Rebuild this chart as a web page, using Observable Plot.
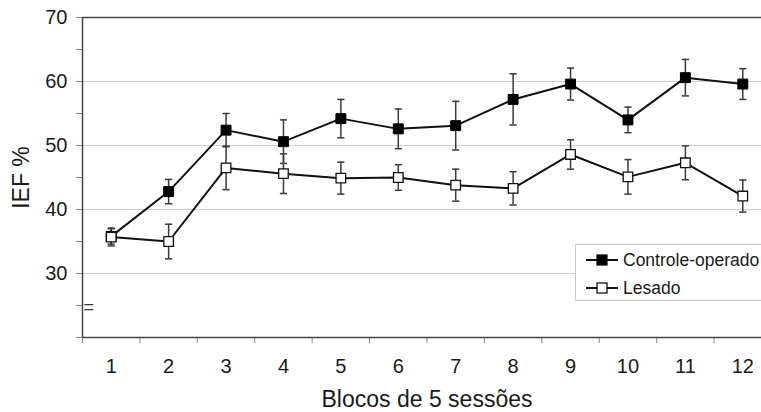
<!DOCTYPE html>
<html>
<head>
<meta charset="utf-8">
<script src="https://cdn.jsdelivr.net/npm/d3@7"></script>
<script src="https://cdn.jsdelivr.net/npm/@observablehq/plot@0.6"></script>
<style>
  html, body { margin: 0; padding: 0; background: #fff; overflow: hidden; }
  #wrap { position: relative; width: 761px; height: 412px; overflow: hidden; font-family: "Liberation Sans", Arial, sans-serif; }
  #legend { position: absolute; left: 575px; top: 244px; width: 210px; height: 57px; border: 1px solid #c8c8c8; background: #fff; box-sizing: border-box; }
  .row { position: absolute; left: 9px; height: 20px; display: flex; align-items: center; font-size: 17.5px; color: #1a1a1a; }
  .row svg { margin-right: 4px; }
</style>
</head>
<body>
<div id="wrap"></div>
<script>
const blocks = [1, 2, 3, 4, 5, 6, 7, 8, 9, 10, 11, 12];
const controle = [35.8, 42.8, 52.4, 50.6, 54.2, 52.6, 53.1, 57.2, 59.6, 54.0, 60.6, 59.6];
const controleErr = [1.2, 1.9, 2.6, 3.4, 3.0, 3.1, 3.8, 4.0, 2.5, 2.0, 2.85, 2.4];
const lesado = [35.7, 35.0, 46.5, 45.6, 44.9, 45.0, 43.8, 43.3, 48.6, 45.1, 47.3, 42.1];
const lesadoErr = [1.4, 2.7, 3.4, 3.1, 2.5, 2.0, 2.5, 2.6, 2.3, 2.7, 2.65, 2.5];
const seriesNames = ["Controle-operado", "Lesado"];
const yTicks = [20, 25, 30, 35, 40, 45, 50, 55, 60, 65, 70];
const yLabels = [30, 40, 50, 60, 70];
const gridValues = [30, 40, 50, 60];
const xBoundaries = [0.5, 1.5, 2.5, 3.5, 4.5, 5.5, 6.5, 7.5, 8.5, 9.5, 10.5, 11.5, 12.5];
const breakMark = [24.7];
const xTitle = "Blocos de 5 sessões";
const yTitle = "IEF %";

const rowsC = blocks.map((b, i) => ({x: b, y: controle[i], e: controleErr[i]}));
const rowsL = blocks.map((b, i) => ({x: b, y: lesado[i], e: lesadoErr[i]}));

const capSymbol = {draw(ctx) { ctx.moveTo(-3.6, 0); ctx.lineTo(3.6, 0); }};
const errColor = "#3a3a3a";

function errMarks(rows) {
  return [
    Plot.ruleX(rows, {x: "x", y1: d => d.y - d.e, y2: d => d.y + d.e, stroke: errColor, strokeWidth: 1.5}),
    Plot.dot(rows, {x: "x", y: d => d.y + d.e, symbol: capSymbol, stroke: errColor, strokeWidth: 1.5, fill: "none", r: 4}),
    Plot.dot(rows, {x: "x", y: d => d.y - d.e, symbol: capSymbol, stroke: errColor, strokeWidth: 1.5, fill: "none", r: 4})
  ];
}

const chart = Plot.plot({
  width: 761,
  height: 412,
  marginLeft: 82,
  marginRight: -10,
  marginTop: 17,
  marginBottom: 75,
  style: {fontFamily: "Liberation Sans, Arial, sans-serif", fontSize: "20px", color: "#1a1a1a", background: "#fff", overflow: "visible"},
  x: {type: "linear", domain: [0.5, 12.5]},
  y: {domain: [20, 70]},
  marks: [
    Plot.ruleY(gridValues, {stroke: "#cfcfcf", strokeWidth: 1}),
    Plot.axisY({ticks: yTicks, tickSize: 6, tickFormat: () => "", stroke: "#8a8a8a", label: null}),
    Plot.axisY({ticks: yLabels, tickSize: 0, tickPadding: 15, fontSize: 20, label: null}),
    Plot.axisY({ticks: [], label: yTitle, labelAnchor: "center", labelOffset: 70, labelArrow: "none", fontSize: 23}),
    Plot.axisX({ticks: xBoundaries, tickSize: 6, tickFormat: () => "", stroke: "#8a8a8a", label: null}),
    Plot.axisX({ticks: blocks, tickSize: 0, tickPadding: 21, fontSize: 20, label: null}),
    Plot.ruleY([70], {stroke: "#444", strokeWidth: 1.5}),
    Plot.ruleY([20], {stroke: "#444", strokeWidth: 1.5}),
    Plot.ruleX([0.5], {stroke: "#444", strokeWidth: 1.5}),
    Plot.text(breakMark, {y: d => d, frameAnchor: "left", text: () => "=", textAnchor: "start", dx: 1, fontSize: 18, fill: "#333"}),
    ...errMarks(rowsC),
    ...errMarks(rowsL),
    Plot.line(rowsC, {x: "x", y: "y", stroke: "#111", strokeWidth: 2}),
    Plot.line(rowsL, {x: "x", y: "y", stroke: "#111", strokeWidth: 2}),
    Plot.dot(rowsC, {x: "x", y: "y", symbol: "square", r: 5.6, fill: "#000", stroke: "#000", strokeWidth: 1}),
    Plot.dot(rowsL, {x: "x", y: "y", symbol: "square", r: 5.4, fill: "#fff", stroke: "#111", strokeWidth: 1.3}),
    Plot.text([xTitle], {text: d => d, frameAnchor: "bottom", lineAnchor: "middle", textAnchor: "middle", dy: 62, fontSize: 23, fill: "#1a1a1a"})
  ]
});

const wrap = document.getElementById("wrap");
wrap.appendChild(chart);

function icon(filled) {
  return `<svg width="34" height="14" viewBox="0 0 34 14"><line x1="1" y1="7" x2="33" y2="7" stroke="#111" stroke-width="2"/><rect x="12" y="2" width="10" height="10" fill="${filled ? '#000' : '#fff'}" stroke="#111" stroke-width="1.3"/></svg>`;
}
const legend = document.createElement("div");
legend.id = "legend";
legend.innerHTML = seriesNames.map((n, i) =>
  `<div class="row" style="top:${5 + i * 28}px">${icon(i === 0)}<span>${n}</span></div>`).join("");
wrap.appendChild(legend);
</script>
</body>
</html>
